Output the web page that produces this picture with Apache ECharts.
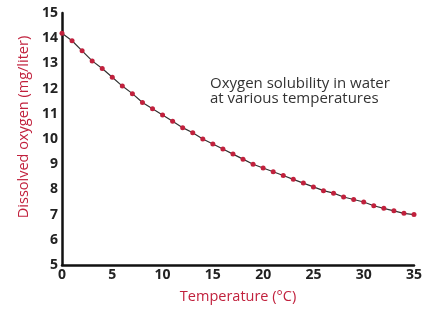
<!DOCTYPE html>
<html>
<head>
<meta charset="utf-8">
<script src="https://cdn.jsdelivr.net/npm/echarts@6/dist/echarts.min.js"></script>
<style>
  html, body { margin: 0; padding: 0; background: #fff; }
  #chart { width: 427px; height: 309px; }
</style>
</head>
<body>
<div id="chart"></div>
<script>
// temperature in degrees C, one point per degree
const temperatures = [0, 1, 2, 3, 4, 5, 6, 7, 8, 9, 10, 11, 12, 13, 14, 15, 16, 17,
  18, 19, 20, 21, 22, 23, 24, 25, 26, 27, 28, 29, 30, 31, 32, 33, 34, 35];
// dissolved oxygen, mg/liter
const oxygen = [14.2, 13.9, 13.5, 13.1, 12.8, 12.45, 12.1, 11.8, 11.45, 11.2, 10.95, 10.7,
  10.45, 10.25, 10.0, 9.8, 9.6, 9.4, 9.2, 9.0, 8.85, 8.7, 8.55, 8.4,
  8.25, 8.1, 7.95, 7.85, 7.7, 7.6, 7.5, 7.35, 7.25, 7.15, 7.05, 7.0];
const noteLines = ['Oxygen solubility in water', 'at various temperatures'];

const red = '#c1213d';
const font = '"Open Sans", "DejaVu Sans", sans-serif';

const chart = echarts.init(document.getElementById('chart'));

let points = temperatures.map((t, i) => [t, oxygen[i]]);

let option = {
  backgroundColor: '#fff',
  animation: false,
  title: {
    text: noteLines.join('\n'),
    left: 205,
    top: 71,
    textStyle: {
      fontFamily: font,
      fontSize: 15,
      fontWeight: 'normal',
      color: '#333',
      lineHeight: 15
    }
  },
  grid: {
    left: 62,
    right: 13,
    top: 13,
    bottom: 41
  },
  xAxis: {
    type: 'value',
    min: 0,
    max: 35,
    interval: 5,
    name: 'Temperature (°C)',
    nameLocation: 'middle',
    nameGap: 24,
    nameTextStyle: { color: red, fontFamily: font, fontSize: 14.5 },
    axisLine: { lineStyle: { color: '#111', width: 2.5 } },
    axisTick: { show: false },
    splitLine: { show: false },
    axisLabel: {
      color: '#222',
      fontFamily: font,
      fontWeight: 'bold',
      fontSize: 14,
      margin: 3
    }
  },
  yAxis: {
    type: 'value',
    min: 5,
    max: 15,
    interval: 1,
    name: 'Dissolved oxygen (mg/liter)',
    nameLocation: 'middle',
    nameGap: 29,
    nameTextStyle: {
      color: red,
      fontFamily: font,
      fontSize: 14.5,
      padding: [0, 0, 0, 24]
    },
    axisLine: { lineStyle: { color: '#111', width: 2.5 } },
    axisTick: { show: false },
    splitLine: { show: false },
    axisLabel: {
      color: '#222',
      fontFamily: font,
      fontWeight: 'bold',
      fontSize: 14,
      margin: 4
    }
  },
  series: [
    {
      type: 'line',
      data: points,
      symbol: 'circle',
      symbolSize: 5,
      showAllSymbol: true,
      lineStyle: { color: '#333', width: 1.2 },
      itemStyle: { color: red }
    }
  ]
};

chart.setOption(option);
</script>
</body>
</html>
